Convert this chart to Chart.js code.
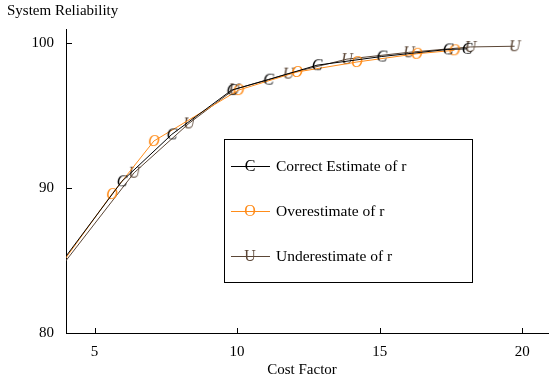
<!DOCTYPE html>
<html><head><meta charset="utf-8">
<script src="https://cdn.jsdelivr.net/npm/chart.js@4/dist/chart.umd.min.js"></script>
<style>html,body{margin:0;padding:0;background:#fff;}#wrap{width:554px;height:383px;position:relative;}</style>
</head><body><div id="wrap"><canvas id="c" width="554" height="383"></canvas></div>
<script>
const seriesNames = ["Correct Estimate of r", "Overestimate of r", "Underestimate of r"];
const markerLetters = ["C", "O", "U"];
const seriesColors = ["#000000", "#ff8c1a", "#5b4636"];
const correctX = [3.0, 5.96, 7.71, 9.81, 11.1, 12.8, 15.07, 17.39, 18.06];
const correctY = [82.66, 90.48, 93.72, 96.78, 97.5, 98.5, 99.1, 99.59, 99.63];
const overX = [3.0, 5.61, 7.08, 10.05, 12.1, 14.2, 16.3, 17.62];
const overY = [82.47, 89.6, 93.26, 96.78, 98.03, 98.72, 99.29, 99.53];
const underX = [3.0, 6.39, 8.31, 9.9, 11.8, 13.85, 16.02, 18.18, 19.73];
const underY = [82.46, 91.07, 94.48, 96.83, 97.92, 98.92, 99.39, 99.76, 99.81];
const xTicks = [5, 10, 15, 20];
const yTicks = [80, 90, 100];
const xTitle = "Cost Factor";
const yTitle = "System Reliability";

const FONT = "'Liberation Serif', 'Times New Roman', serif";

function makeMarker(letter, color, italic) {
  const c = document.createElement('canvas');
  c.width = 20; c.height = 20;
  const g = c.getContext('2d');
  g.font = (italic ? 'italic ' : '') + '16px ' + FONT;
  g.fillStyle = color;
  g.textAlign = 'center';
  g.textBaseline = 'middle';
  g.fillText(letter, 10, 11);
  return c;
}
const plotMarkers = markerLetters.map((l, i) => makeMarker(l, seriesColors[i], true));
const legendMarkers = markerLetters.map((l, i) => makeMarker(l, seriesColors[i], false));

function pts(xs, ys) { return xs.map((x, i) => ({ x: x, y: ys[i] })); }
const allData = [pts(correctX, correctY), pts(overX, overY), pts(underX, underY)];

const datasets = allData.map((d, i) => ({
  label: seriesNames[i],
  data: d,
  borderColor: seriesColors[i],
  backgroundColor: seriesColors[i],
  borderWidth: 1,
  tension: 0,
  pointStyle: plotMarkers[i],
  pointRadius: 5,
  pointHoverRadius: 5,
  fill: false
}));

const decorPlugin = {
  id: 'decor',
  afterDraw(chart) {
    const ctx = chart.ctx;
    const xs = chart.scales.x, ys = chart.scales.y;
    const a = chart.chartArea;
    ctx.save();
    ctx.strokeStyle = '#000';
    ctx.lineWidth = 1;
    xTicks.forEach(v => {
      const px = Math.round(xs.getPixelForValue(v)) + 0.5;
      ctx.beginPath(); ctx.moveTo(px, a.bottom); ctx.lineTo(px, a.bottom - 5); ctx.stroke();
    });
    yTicks.forEach(v => {
      const py = Math.round(ys.getPixelForValue(v)) + 0.5;
      ctx.beginPath(); ctx.moveTo(a.left, py); ctx.lineTo(a.left + 6, py); ctx.stroke();
    });
    ctx.fillStyle = '#000';
    ctx.font = '15px ' + FONT;
    ctx.textBaseline = 'middle';
    ctx.textAlign = 'left';
    ctx.fillText(yTitle, 7, 11);
    ctx.textAlign = 'center';
    ctx.fillText(xTitle, 302, 370);
    const bx = 224.5, by = 139.5, bw = 248, bh = 143;
    ctx.fillStyle = '#fff';
    ctx.fillRect(bx, by, bw, bh);
    ctx.strokeStyle = '#000';
    ctx.strokeRect(bx, by, bw, bh);
    const rowY = [166, 211, 256];
    seriesNames.forEach((name, i) => {
      const y = rowY[i];
      ctx.strokeStyle = seriesColors[i];
      ctx.beginPath(); ctx.moveTo(231, y + 0.5); ctx.lineTo(270, y + 0.5); ctx.stroke();
      const m = legendMarkers[i];
      ctx.drawImage(m, 250 - m.width / 2, y - m.height / 2);
      ctx.fillStyle = '#000';
      ctx.textAlign = 'left';
      ctx.font = '15.5px ' + FONT;
      ctx.fillText(name, 276, y + 1);
    });
    ctx.restore();
  }
};

new Chart(document.getElementById('c'), {
  type: 'line',
  data: { datasets: datasets },
  options: {
    responsive: false,
    animation: false,
    devicePixelRatio: 1,
    events: [],
    layout: { padding: { top: 29, right: 0, left: 0, bottom: 0 } },
    plugins: { legend: { display: false }, tooltip: { enabled: false }, title: { display: false } },
    scales: {
      x: {
        type: 'linear', min: 4, max: 20.9,
        afterBuildTicks: s => { s.ticks = xTicks.map(v => ({ value: v })); },
        afterFit: s => { s.height = 50; },
        grid: { display: false },
        border: { display: true, color: '#000', width: 1 },
        ticks: { color: '#000', font: { family: FONT, size: 15 }, padding: 2, maxRotation: 0 }
      },
      y: {
        type: 'linear', min: 80, max: 101,
        afterBuildTicks: s => { s.ticks = yTicks.map(v => ({ value: v })); },
        afterFit: s => { s.width = 66; },
        grid: { display: false },
        border: { display: true, color: '#000', width: 1 },
        ticks: { color: '#000', font: { family: FONT, size: 15 }, padding: 4 }
      }
    }
  },
  plugins: [decorPlugin]
});
</script></body></html>
